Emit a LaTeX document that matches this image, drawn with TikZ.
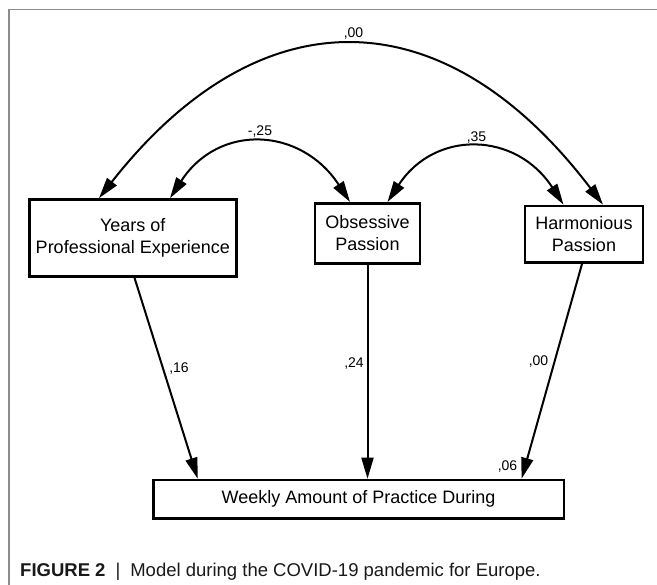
\documentclass[tikz,border=0pt]{standalone}
\usepackage{fontspec}
\setmainfont{Liberation Sans}
\usetikzlibrary{arrows.meta}
\begin{document}
\begin{tikzpicture}[x=1pt,y=1pt,
  box/.style={draw=black, line width=2.6pt, align=center, inner sep=0pt, font=\fontsize{18}{21.7}\selectfont},
  tipA/.tip={Triangle[length=21pt,width=12pt]},
  conn/.style={line width=2pt, -tipA},
  biconn/.style={line width=2pt, tipA-tipA},
  lbl/.style={font=\fontsize{14}{14}\selectfont, inner sep=0pt}]
\useasboundingbox (0,0) rectangle (657,585);
\draw[gray!90, line width=1.5pt] (657,575.7) -- (9,575.7) -- (9,0);
% boxes
\node[box, minimum width=207pt, minimum height=77pt] (yr) at (132.8,347) {Years of\\Professional Experience};
\node[box, minimum width=105pt, minimum height=60pt] (ob) at (367.5,351.7) {Obsessive\\Passion};
\node[box, minimum width=118pt, minimum height=56.7pt] (hp) at (584,350.7) {Harmonious\\Passion};
\node[box, minimum width=410.7pt, minimum height=38.3pt] (wk) at (358.6,85.8) {Weekly Amount of Practice During};
% covariances
\draw[biconn] ([xshift=-33.8pt]yr.north) .. controls (259,590.7) and (443,590.7) .. ([xshift=19pt]hp.north);
\draw[biconn] ([xshift=37.2pt]yr.north) .. controls (219,462) and (301,458) .. ([xshift=-17.5pt]ob.north);
\draw[biconn] ([xshift=20pt]ob.north) .. controls (435,455.5) and (516,453.5) .. ([xshift=-20.5pt]hp.north);
% paths
\draw[conn] ([xshift=1.7pt]yr.south) -- ([xshift=-160.9pt]wk.north);
\draw[conn] (ob.south) -- (ob.south |- wk.north);
\draw[conn] ([xshift=-2pt]hp.south) -- ([xshift=163pt]wk.north);
% labels
\node[lbl] (l00a) at (353.5,551) {,00};
\node[lbl] (l25) at (260,453.3) {-,25};
\node[lbl] (l35) at (476.5,447) {,35};
\node[lbl] (l16) at (179,216) {,16};
\node[lbl] (l24) at (354,221.5) {,24};
\node[lbl] (l00b) at (538.5,223) {,00};
\node[lbl] (l06) at (507.5,118.5) {,06};
% caption
\node[anchor=base west, font=\fontsize{18.5}{20}\selectfont, inner sep=0pt, text=black!90] (cap) at (20,8) {\textbf{FIGURE 2}\hspace{10pt}|\hspace{10pt}Model during the COVID-19 pandemic for Europe.};
\end{tikzpicture}
\end{document}
